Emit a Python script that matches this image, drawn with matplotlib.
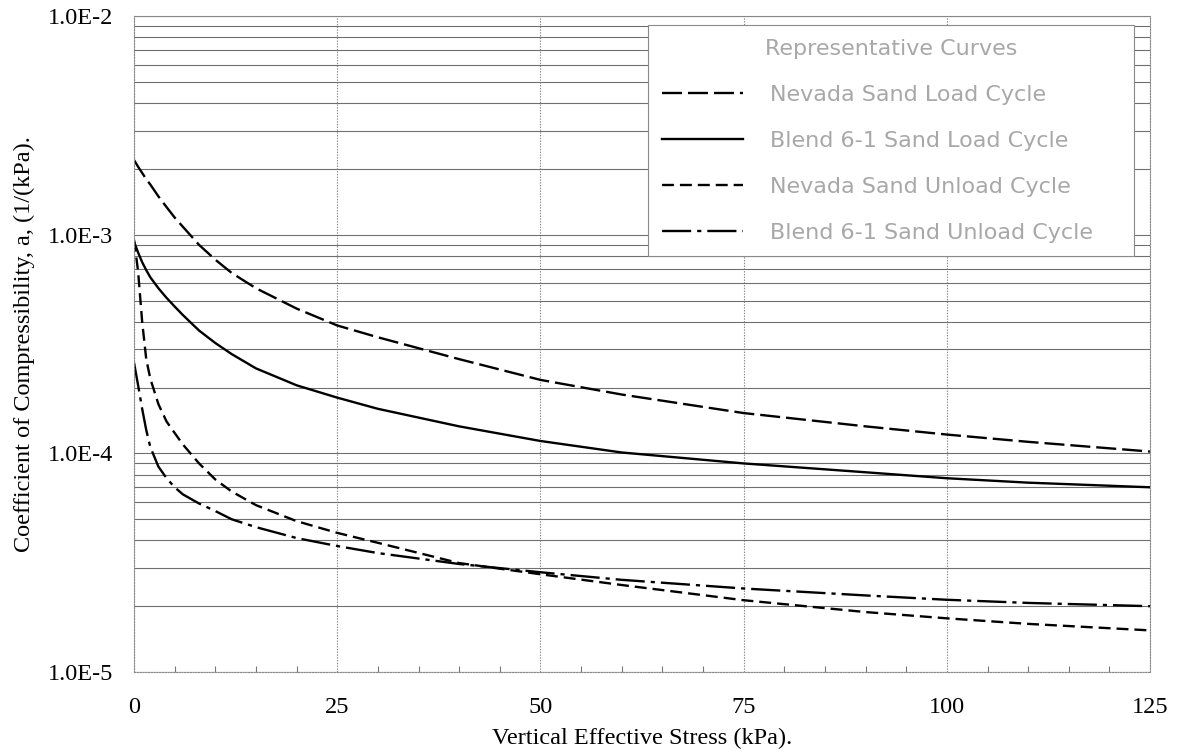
import matplotlib
matplotlib.use('Agg')
import matplotlib.pyplot as plt
from matplotlib.ticker import LogLocator, MultipleLocator, FuncFormatter, NullFormatter

stress = [0, 0.5, 1, 1.5, 2, 3, 4, 5, 6, 8, 10, 12, 15, 20, 25, 30, 40, 50,
          60, 75, 90, 100, 110, 125]

nevada_load = [2.2e-3, 2.05e-3, 1.92e-3, 1.80e-3, 1.70e-3, 1.50e-3, 1.34e-3,
               1.2e-3, 1.09e-3, 9.0e-4, 7.7e-4, 6.7e-4, 5.7e-4, 4.6e-4,
               3.85e-4, 3.4e-4, 2.7e-4, 2.17e-4, 1.86e-4, 1.53e-4, 1.33e-4,
               1.22e-4, 1.13e-4, 1.02e-4]
blend_load = [9.3e-4, 8.3e-4, 7.5e-4, 6.9e-4, 6.4e-4, 5.7e-4, 5.15e-4, 4.7e-4,
              4.3e-4, 3.65e-4, 3.2e-4, 2.85e-4, 2.45e-4, 2.05e-4, 1.8e-4,
              1.6e-4, 1.33e-4, 1.14e-4, 1.01e-4, 9.0e-5, 8.2e-5, 7.7e-5,
              7.35e-5, 7.0e-5]
nevada_unload = [9.5e-4, 6.8e-4, 4.0e-4, 2.7e-4, 2.2e-4, 1.68e-4, 1.4e-4,
                 1.24e-4, 1.1e-4, 9.0e-5, 7.6e-5, 6.7e-5, 5.8e-5, 4.9e-5,
                 4.33e-5, 3.9e-5, 3.15e-5, 2.8e-5, 2.5e-5, 2.13e-5, 1.88e-5,
                 1.76e-5, 1.66e-5, 1.55e-5]
blend_unload = [2.6e-4, 2.05e-4, 1.6e-4, 1.28e-4, 1.07e-4, 8.7e-5, 7.7e-5,
                7.0e-5, 6.5e-5, 5.9e-5, 5.45e-5, 5.0e-5, 4.6e-5, 4.1e-5,
                3.77e-5, 3.5e-5, 3.12e-5, 2.86e-5, 2.64e-5, 2.41e-5, 2.24e-5,
                2.14e-5, 2.07e-5, 2.0e-5]

labels = ['Nevada Sand Load Cycle', 'Blend 6-1 Sand Load Cycle',
          'Nevada Sand Unload Cycle', 'Blend 6-1 Sand Unload Cycle']

plt.rcParams['lines.scale_dashes'] = False
plt.rcParams['font.family'] = 'Liberation Serif'


def sci_label(v, pos):
    # 1.0E-3 style, no zero padding on the exponent
    return ('%.1E' % v).replace('E-0', 'E-')


fig = plt.figure(figsize=(11.82, 7.52), dpi=100)
ax = fig.add_axes([0.1134, 0.1064, 0.8596, 0.8719])

ax.plot(stress, nevada_load, color='black', lw=1.7, ls=(0, (14.4, 4.3)), label=labels[0])
ax.plot(stress, blend_load, color='black', lw=1.7, ls='-', label=labels[1])
ax.plot(stress, nevada_unload, color='black', lw=1.7, ls=(0, (8.6, 4.3)), label=labels[2])
ax.plot(stress, blend_unload, color='black', lw=1.7, ls=(0, (21, 4.3, 3, 4.3)), label=labels[3])

ax.set_yscale('log')
ax.set_xlim(0, 125)
ax.set_ylim(1e-5, 1e-2)

ax.xaxis.set_major_locator(MultipleLocator(25))
ax.xaxis.set_minor_locator(MultipleLocator(5))
ax.yaxis.set_major_locator(LogLocator(base=10))
ax.yaxis.set_minor_locator(LogLocator(base=10, subs=range(2, 10)))
ax.yaxis.set_major_formatter(FuncFormatter(sci_label))
ax.yaxis.set_minor_formatter(NullFormatter())

ax.grid(True, axis='y', which='both', color='#707070', lw=0.8, ls='-')
ax.grid(True, axis='x', which='major', color='#8a8a8a', lw=0.8, ls=(0, (1, 1)))

ax.tick_params(axis='both', which='major', length=0, labelsize=17.5)
ax.tick_params(axis='x', which='major', pad=18)
ax.tick_params(axis='y', which='major', pad=15)
ax.tick_params(axis='x', which='minor', direction='in', length=4, color='#777777', width=0.8)
ax.tick_params(axis='y', which='minor', length=0)

for s in ax.spines.values():
    s.set_color('#8a8a8a')
    s.set_linewidth(0.8)
    s.set_linestyle((0, (1, 1)))

ax.set_xlabel('Vertical Effective Stress (kPa).', fontsize=17.5, labelpad=7)
ax.set_ylabel('Coefficient of Compressibility, a, (1/(kPa).', fontsize=17.5, labelpad=9)

leg = ax.legend(loc='upper left', bbox_to_anchor=(0.506, 0.631, 0.478, 0.356),
                mode='expand', borderaxespad=0, title='Representative Curves',
                prop={'family': 'DejaVu Sans', 'size': 16},
                title_fontproperties={'family': 'DejaVu Sans', 'size': 16},
                handlelength=3.65, handletextpad=1.2, labelspacing=1.17,
                borderpad=0.62, fancybox=False, framealpha=1,
                edgecolor='#8a8a8a', labelcolor='#a8a8a8')
leg.get_frame().set_linewidth(0.8)
leg.get_title().set_color('#a8a8a8')

fig.savefig('out.png', dpi=100)
